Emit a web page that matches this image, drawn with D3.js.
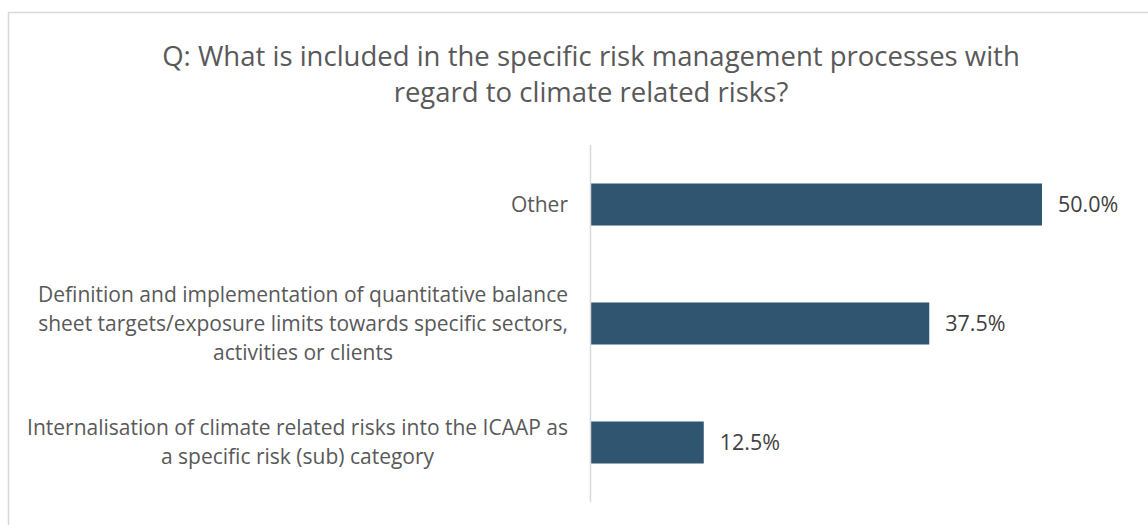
<!DOCTYPE html>
<html>
<head>
<meta charset="utf-8">
<script src="https://cdn.jsdelivr.net/npm/d3@7"></script>
<style>
  body { margin: 0; background: #fff; }
  text { font-family: "Open Sans", sans-serif; }
</style>
</head>
<body>
<svg></svg>
<script>
const width = 1148;
const height = 525;

const titleLines = [
  "Q: What is included in the specific risk management processes with",
  "regard to climate related risks?"
];
const categories = [
  ["Other"],
  ["Definition and implementation of quantitative balance",
   "sheet targets/exposure limits towards specific sectors,",
   "activities or clients"],
  ["Internalisation of climate related risks into the ICAAP as",
   "a specific risk (sub) category"]
];
const values = [0.5, 0.375, 0.125];

const svg = d3.select("svg")
    .attr("width", width)
    .attr("height", height);

// chart frame
svg.append("rect")
    .attr("x", 8.5)
    .attr("y", 12.5)
    .attr("width", 1200)
    .attr("height", 600)
    .attr("fill", "none")
    .attr("stroke", "#d9d9d9")
    .attr("stroke-width", 1.5);

const xScale = d3.scaleLinear()
    .domain([0, 0.5])
    .range([591, 1042]);
const yScale = d3.scaleBand()
    .domain(d3.range(categories.length))
    .range([145, 502])
    .paddingInner(0.647)
    .paddingOuter(0.3235);

svg.selectAll(".title")
    .data(titleLines)
    .enter()
    .append("text")
        .attr("class", "title")
        .attr("x", 591)
        .attr("y", (d, i) => 66 + i * 36)
        .attr("text-anchor", "middle")
        .style("font-size", "27.5px")
        .style("fill", "#595959")
        .text(d => d);

svg.selectAll("rect.bar")
    .data(values)
    .enter()
    .append("rect")
        .attr("class", "bar")
        .attr("x", xScale(0))
        .attr("y", (d, i) => yScale(i))
        .attr("width", d => xScale(d) - xScale(0))
        .attr("height", yScale.bandwidth())
        .attr("fill", "#2f5571");

// vertical axis line
svg.append("line")
    .attr("x1", 590.5)
    .attr("x2", 590.5)
    .attr("y1", yScale.range()[0])
    .attr("y2", yScale.range()[1])
    .attr("stroke", "#d9d9d9")
    .attr("stroke-width", 1.5);

svg.selectAll(".value")
    .data(values)
    .enter()
    .append("text")
        .attr("class", "value")
        .attr("x", d => xScale(d) + 16)
        .attr("y", (d, i) => yScale(i) + yScale.bandwidth() / 2)
        .attr("dy", "0.35em")
        .style("font-size", "21.5px")
        .style("fill", "#404040")
        .text(d => d3.format(".1%")(d));

// category labels: lines centred within a right-aligned block
const lineHeight = 29;
categories.forEach((lines, i) => {
    const g = svg.append("g");
    const cy = yScale(i) + yScale.bandwidth() / 2;
    const texts = g.selectAll("text")
        .data(lines)
        .enter()
        .append("text")
            .attr("y", (d, j) => cy + (j - (lines.length - 1) / 2) * lineHeight)
            .attr("dy", "0.35em")
            .attr("text-anchor", "middle")
            .style("font-size", "21px")
            .style("fill", "#595959")
            .text(d => d);
    const maxW = d3.max(texts.nodes(), n => n.getComputedTextLength());
    texts.attr("x", 568 - maxW / 2);
});
</script>
</body>
</html>
